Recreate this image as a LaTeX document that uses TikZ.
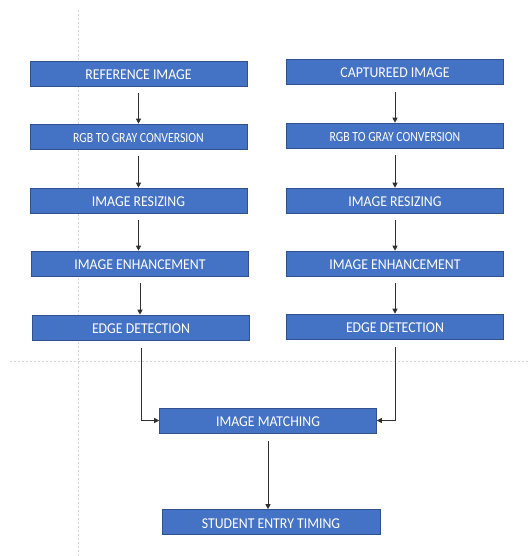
\documentclass[tikz,border=0pt]{standalone}
\usepackage{fontspec}
\usepackage{graphicx}
\setmainfont{Carlito}
\usetikzlibrary{arrows.meta,calc}
\definecolor{boxblue}{HTML}{4472C4}
\definecolor{boxedge}{HTML}{2F528F}
\definecolor{guide}{HTML}{D4D4D4}
\definecolor{arrowc}{HTML}{303030}
\newcommand\bxtxt[2]{\scalebox{#1}[1]{#2}}
\tikzset{
  box/.style={draw=boxedge, line width=0.6pt, fill=boxblue, minimum width=217pt, minimum height=25pt,
    inner sep=0pt, text=white, font=\fontsize{15}{17}\selectfont, text height=12pt, text depth=-4.5pt},
  smallbox/.style={box, font=\fontsize{14}{16}\selectfont, text height=11.5pt, text depth=-4.5pt},
  arr/.style={draw=arrowc, line width=0.9pt, -{Triangle[width=5pt,length=5pt]}},
  guideline/.style={draw=guide, line width=0.8pt, dash pattern=on 2pt off 2pt}
}
\begin{document}
\begin{tikzpicture}[x=1pt,y=-1pt]
\useasboundingbox[fill=white] (0,0) rectangle (528,556);
\coordinate (gv1) at (78,10);
\coordinate (gv2) at (78,556);
\coordinate (gh1) at (10,361);
\coordinate (gh2) at (528,361);
\draw[guideline] (gv1) -- (gv2);
\draw[guideline] (gh1) -- (gh2);

\node[box] (ref) at (138.5,73.5) {\bxtxt{0.92}{REFERENCE IMAGE}};
\node[smallbox] (rgbL) at (138.5,136.5) {\bxtxt{0.84}{RGB TO GRAY CONVERSION}};
\node[box] (resL) at (138.5,200.5) {\bxtxt{0.92}{IMAGE RESIZING}};
\node[box] (enhL) at (140,263.5) {\bxtxt{0.92}{IMAGE ENHANCEMENT}};
\node[box] (edgeL) at (141,327.5) {\bxtxt{0.92}{EDGE DETECTION}};

\node[box] (cap) at (395,72) {\bxtxt{0.92}{CAPTUREED IMAGE}};
\node[smallbox] (rgbR) at (395,135.5) {\bxtxt{0.84}{RGB TO GRAY CONVERSION}};
\node[box] (resR) at (395,200.5) {\bxtxt{0.92}{IMAGE RESIZING}};
\node[box] (enhR) at (395,263.5) {\bxtxt{0.92}{IMAGE ENHANCEMENT}};
\node[box] (edgeR) at (395,326.5) {\bxtxt{0.92}{EDGE DETECTION}};

\node[box] (match) at (268,420.5) {\bxtxt{0.92}{IMAGE MATCHING}};
\node[box, minimum width=218pt] (student) at (271,522) {\bxtxt{0.92}{STUDENT ENTRY TIMING}};

\foreach \a/\b in {ref/rgbL,rgbL/resL,resL/enhL,enhL/edgeL,cap/rgbR,rgbR/resR,resR/enhR,enhR/edgeR}{
  \draw[arr] ([yshift=-7pt]\a.south) -- (\a.south |- \b.north);
}
\draw[arr] ([yshift=-8pt]edgeL.south) -- (edgeL.south |- match.west) -- (match.west);
\draw[arr] ([yshift=-8pt]edgeR.south) -- (edgeR.south |- match.east) -- (match.east);
\draw[arr] ([yshift=-8pt]match.south) -- (match.south |- student.north);
\end{tikzpicture}
\end{document}
